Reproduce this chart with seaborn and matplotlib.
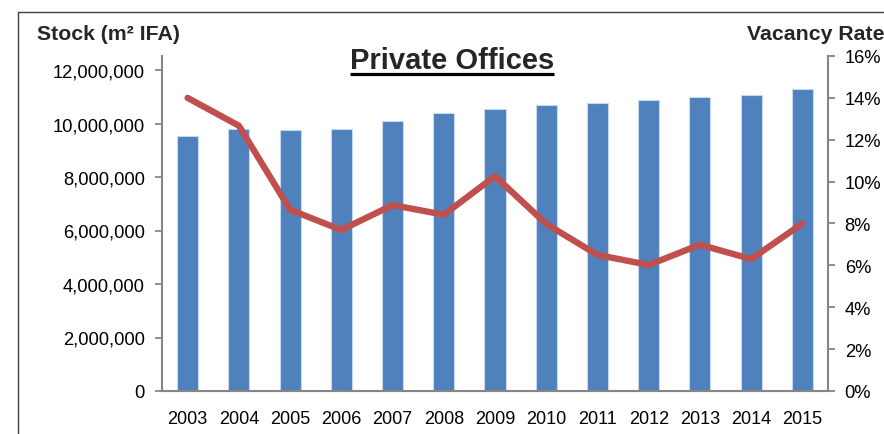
import numpy as np
import pandas as pd
import seaborn as sns
import matplotlib
matplotlib.use("Agg")
import matplotlib.pyplot as plt
from matplotlib.lines import Line2D
from matplotlib.ticker import FuncFormatter, FixedLocator

years = ["2003", "2004", "2005", "2006", "2007", "2008", "2009",
         "2010", "2011", "2012", "2013", "2014", "2015"]
stock_m2 = [9520000, 9800000, 9760000, 9810000, 10110000, 10380000, 10530000,
            10680000, 10780000, 10880000, 10980000, 11050000, 11280000]
vacancy_pct = [14.0, 12.67, 8.66, 7.69, 8.88, 8.42, 10.26,
               7.98, 6.50, 6.02, 6.99, 6.30, 8.0]
stock_ticks = [0, 2000000, 4000000, 6000000, 8000000, 10000000, 12000000]
vacancy_ticks = [0, 2, 4, 6, 8, 10, 12, 14, 16]

df = pd.DataFrame({"year": years, "stock": stock_m2, "vacancy": vacancy_pct})
df["pos"] = np.arange(len(df))

sns.set_theme(style="white")
plt.rcParams["font.family"] = ["Liberation Sans", "DejaVu Sans"]

W, H = 884, 435
fig = plt.figure(figsize=(W / 100, H / 100), dpi=100)
ax = fig.add_axes([162 / W, 1 - 392 / H, (828 - 162) / W, (392 - 57) / H])

axis_grey = "#868686"

sns.barplot(data=df, x="pos", y="stock", ax=ax, color="#4F81BD", saturation=1,
            width=0.41, edgecolor="#C6D9F1", linewidth=0.8, native_scale=True)
ax.set_xlim(-0.5, len(df) - 0.5)
ax.set_ylim(0, 12000000 * 335 / 321)
ax.yaxis.set_major_locator(FixedLocator(stock_ticks))
ax.yaxis.set_major_formatter(FuncFormatter(lambda v, p: f"{int(v):,}"))
ax.set_xticks(df["pos"])
ax.set_xticklabels(years)
ax.set_xticks(np.arange(-0.5, len(df), 1), minor=True)
ax.tick_params(axis="x", which="major", length=0, pad=14, labelsize=13, colors="black")
ax.tick_params(axis="x", which="minor", length=5, width=1.3, color=axis_grey, direction="out")
ax.tick_params(axis="y", which="major", length=5, width=1.3, color=axis_grey,
               direction="out", left=True, pad=7.5, labelsize=13.2, labelcolor="black")
ax.set_xlabel("")
ax.set_ylabel("")
for side in ["top", "right"]:
    ax.spines[side].set_visible(False)
for side in ["left", "bottom"]:
    ax.spines[side].set_color(axis_grey)
    ax.spines[side].set_linewidth(1.5)

ax2 = ax.twinx()
sns.lineplot(data=df, x="pos", y="vacancy", ax=ax2, color="#C0504D",
             linewidth=4.6, solid_capstyle="round", solid_joinstyle="round")
ax2.set_ylim(0, 16)
ax2.yaxis.set_major_locator(FixedLocator(vacancy_ticks))
ax2.yaxis.set_major_formatter(FuncFormatter(lambda v, p: f"{int(v)}%"))
ax2.tick_params(axis="y", length=5, width=1.3, color=axis_grey, direction="out",
                right=True, pad=7, labelsize=13.2, labelcolor="black")
ax2.set_ylabel("")
ax2.set_xlabel("")
for side in ["top", "left", "bottom"]:
    ax2.spines[side].set_visible(False)
ax2.spines["right"].set_color(axis_grey)
ax2.spines["right"].set_linewidth(1.5)
ax.set_xlim(-0.5, len(df) - 0.5)

# axis titles
fig.text(37 / W, 1 - 35 / H, "Stock (m² IFA)", ha="left", va="center",
         fontsize=15.3, fontweight="bold")
fig.text(747 / W, 1 - 35 / H, "Vacancy Rate", ha="left", va="center",
         fontsize=15.3, fontweight="bold")

# underlined chart title
title = fig.text(452 / W, 1 - 69 / H, "Private Offices", ha="center", va="baseline",
                 fontsize=21, fontweight="bold")
fig.canvas.draw()
bb = title.get_window_extent(fig.canvas.get_renderer())
uy = 1 - 74.5 / H
fig.add_artist(Line2D([bb.x0 / W, bb.x1 / W], [uy, uy], color="black",
                      linewidth=2.3, solid_capstyle="butt"))

# outer frame lines
fy = 1 - 12.5 / H
fx = 17.5 / W
fig.add_artist(Line2D([fx, 1.0], [fy, fy], color="#404040", linewidth=1.0))
fig.add_artist(Line2D([fx, fx], [fy, 0.0], color="#404040", linewidth=1.0))

fig.savefig("out.png", dpi=100)
